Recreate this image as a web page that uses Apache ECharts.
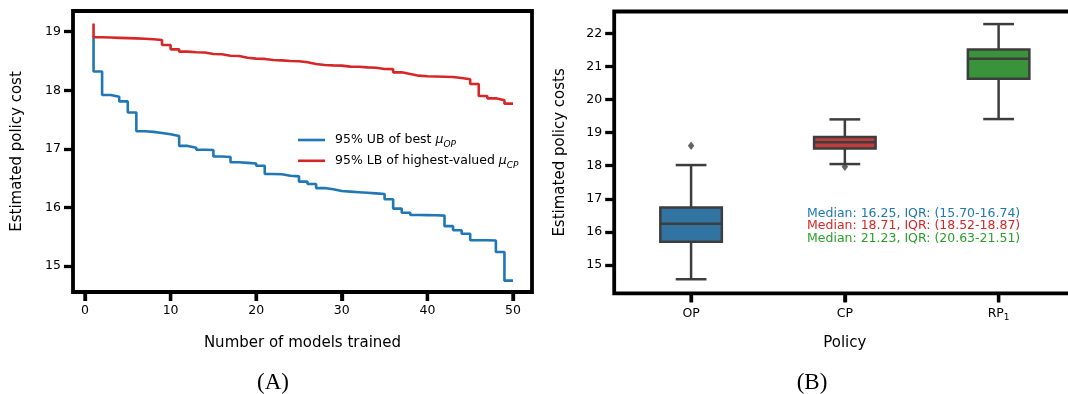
<!DOCTYPE html>
<html>
<head>
<meta charset="utf-8">
<script src="https://cdn.jsdelivr.net/npm/echarts@6/dist/echarts.min.js"></script>
<style>
  html, body { margin: 0; padding: 0; background: #fff; }
  #chart { width: 1068px; height: 394px; }
</style>
</head>
<body>
<div id="chart"></div>
<script>
// Panel A: bounds on policy cost as more models are trained
const modelsTrained = [1, 2, 3, 4, 5, 6, 7, 8, 9, 10, 11, 12, 13, 14, 15, 16, 17, 18, 19, 20,
  21, 22, 23, 24, 25, 26, 27, 28, 29, 30, 31, 32, 33, 34, 35, 36, 37, 38, 39, 40,
  41, 42, 43, 44, 45, 46, 47, 48, 49, 50];
const ubBestOP = [18.92, 18.32, 17.92, 17.89, 17.81, 17.62, 17.30, 17.29, 17.27, 17.25,
  17.22, 17.05, 17.02, 16.985, 16.98, 16.87, 16.86, 16.77, 16.76, 16.75,
  16.71, 16.57, 16.565, 16.54, 16.53, 16.44, 16.40, 16.33, 16.31, 16.28,
  16.27, 16.26, 16.25, 16.24, 16.23, 16.14, 15.98, 15.91, 15.87, 15.868,
  15.865, 15.86, 15.68, 15.61, 15.55, 15.44, 15.44, 15.435, 15.24, 14.75];
const lbHighestCP = [19.14, 18.905, 18.90, 18.895, 18.89, 18.885, 18.88, 18.87, 18.858, 18.772,
  18.698, 18.659, 18.65, 18.645, 18.62, 18.615, 18.59, 18.585, 18.556, 18.54,
  18.535, 18.517, 18.51, 18.50, 18.495, 18.477, 18.448, 18.431, 18.425, 18.42,
  18.403, 18.40, 18.391, 18.385, 18.363, 18.36, 18.306, 18.278, 18.249, 18.238,
  18.234, 18.23, 18.226, 18.209, 18.187, 18.107, 17.902, 17.862, 17.828, 17.771];
const xTicksA = [0, 10, 20, 30, 40, 50];
const yTicksA = [15, 16, 17, 18, 19];

// Panel B: distribution of estimated costs per policy
const policies = ['OP', 'CP', 'RP1'];
// [lower whisker, Q1, median, Q3, upper whisker]
const boxStats = [
  [14.57, 15.70, 16.25, 16.74, 18.02],
  [18.05, 18.52, 18.71, 18.87, 19.40],
  [19.41, 20.63, 21.23, 21.51, 22.28]
];
const outliers = [[0, 18.60], [1, 17.97]];
const yTicksB = [15, 16, 17, 18, 19, 20, 21, 22];

const FONT = '"DejaVu Sans", Verdana, sans-serif';
const SERIF = '"Liberation Serif", "DejaVu Serif", serif';
const LINE_BLUE = '#1f77b4', LINE_RED = '#d62728', LINE_GREEN = '#2ca02c';
const BOX_FILL = ['#3274a1', '#c03d3e', '#3a923a'];
const NOTE_COLORS = [LINE_BLUE, LINE_RED, LINE_GREEN];
const BOX_EDGE = '#3d3d3d';
const TICK_LEN = 9, TICK_W = 3.3;
const Y_MIN_A = 14.556, Y_MAX_A = 19.353, Y_MIN_B = 14.145, Y_MAX_B = 22.66;

const legendLabels = {
  ub: '{t|95% UB of best }{m|μ}{s|OP}',
  lb: '{t|95% LB of highest-valued }{m|μ}{s|CP}'
};

const labelBase = { color: '#000', fontFamily: FONT, fontSize: 12.5 };
const makeTick = (extra) => Object.assign({ show: true, length: TICK_LEN, lineStyle: { color: '#000', width: TICK_W } }, extra);
const titleText = (id, text, x, y, rotation) => ({
  id: id, type: 'text', x: x, y: y, rotation: rotation || 0, silent: true,
  style: { text: text, fill: '#000', fontFamily: FONT, fontSize: 15, align: 'center', verticalAlign: 'middle' }
});

// Short outward tick below the bottom spine at each given x value
function bottomTickSeries(xAxisIndex, yAxisIndex, yMin, values) {
  return {
    type: 'custom', xAxisIndex: xAxisIndex, yAxisIndex: yAxisIndex, clip: false, z: 10,
    silent: true, encode: { x: 0, y: 1 },
    data: values.map((v) => [v, yMin]),
    renderItem: (params, api) => {
      const p = api.coord([api.value(0), api.value(1)]);
      return {
        type: 'line',
        shape: { x1: p[0], y1: p[1], x2: p[0], y2: p[1] + TICK_LEN },
        style: { stroke: '#000', lineWidth: TICK_W }
      };
    }
  };
}

const chart = echarts.init(document.getElementById('chart'), null, { renderer: 'canvas' });

chart.setOption({
  animation: false,
  backgroundColor: '#fff',
  grid: [
    { left: 73, top: 11, width: 459, height: 281, show: true, borderColor: '#000', borderWidth: 3.8,
      backgroundColor: '#fff', containLabel: false, outerBoundsMode: 'none' },
    { left: 614.2, top: 11.5, width: 461.3, height: 281.8, show: true, borderColor: '#000', borderWidth: 3.8,
      backgroundColor: '#fff', containLabel: false, outerBoundsMode: 'none' }
  ],
  legend: {
    orient: 'vertical', left: 298, top: 133.5, padding: 0, itemGap: 5.3,
    itemWidth: 27, itemHeight: 2.6, icon: 'rect', selectedMode: false,
    data: ['ub', 'lb'],
    formatter: (name) => legendLabels[name],
    textStyle: {
      color: '#000', fontFamily: FONT, fontSize: 12.5, padding: [0, 0, 0, 5],
      rich: {
        t: { fontFamily: FONT, fontSize: 12.5, lineHeight: 18, color: '#000' },
        m: { fontFamily: FONT, fontSize: 12.5, fontStyle: 'italic', lineHeight: 18, color: '#000' },
        s: { fontFamily: FONT, fontSize: 9, fontStyle: 'italic', lineHeight: 18, verticalAlign: 'bottom', color: '#000' }
      }
    }
  },
  xAxis: [
    {
      gridIndex: 0, type: 'value', min: -1.40, max: 52.22,
      axisLine: { show: false, onZero: false }, splitLine: { show: false },
      axisTick: makeTick({ customValues: xTicksA }),
      axisLabel: Object.assign({ customValues: xTicksA, margin: 12 }, labelBase)
    },
    {
      gridIndex: 1, type: 'category', data: policies, boundaryGap: true,
      axisLine: { show: false, onZero: false }, splitLine: { show: false },
      axisTick: makeTick({ alignWithLabel: true }),
      axisLabel: Object.assign({
        margin: 12,
        formatter: (v) => {
          const m = v.match(/^(\D+)(\d+)$/);
          return m ? '{n|' + m[1] + '}{s|' + m[2] + '}' : '{n|' + v + '}';
        },
        rich: {
          n: { fontFamily: FONT, fontSize: 12.5, lineHeight: 17, color: '#000' },
          s: { fontFamily: FONT, fontSize: 9, lineHeight: 17, verticalAlign: 'bottom', color: '#000' }
        }
      }, labelBase)
    }
  ],
  yAxis: [
    {
      gridIndex: 0, type: 'value', min: Y_MIN_A, max: Y_MAX_A,
      axisLine: { show: false, onZero: false }, splitLine: { show: false },
      axisTick: makeTick({ customValues: yTicksA }),
      axisLabel: Object.assign({ customValues: yTicksA, margin: 12 }, labelBase)
    },
    {
      gridIndex: 1, type: 'value', min: Y_MIN_B, max: Y_MAX_B,
      axisLine: { show: false, onZero: false }, splitLine: { show: false },
      axisTick: makeTick({ customValues: yTicksB }),
      axisLabel: Object.assign({ customValues: yTicksB, margin: 12 }, labelBase)
    }
  ],
  series: [
    {
      name: 'ub', type: 'line', xAxisIndex: 0, yAxisIndex: 0, step: 'start',
      symbol: 'none', showSymbol: false, color: LINE_BLUE,
      lineStyle: { color: LINE_BLUE, width: 2.6 },
      data: modelsTrained.map((x, i) => [x, ubBestOP[i]])
    },
    {
      name: 'lb', type: 'line', xAxisIndex: 0, yAxisIndex: 0, step: 'start',
      symbol: 'none', showSymbol: false, color: LINE_RED,
      lineStyle: { color: LINE_RED, width: 2.6 },
      data: modelsTrained.map((x, i) => [x, lbHighestCP[i]])
    },
    {
      name: 'boxes', type: 'custom', xAxisIndex: 1, yAxisIndex: 1,
      encode: { x: 0, y: [1, 2, 3, 4, 5] },
      data: boxStats.map((s, i) => [i].concat(s)),
      renderItem: (params, api) => {
        const i = api.value(0);
        const lo = api.coord([i, api.value(1)]);
        const q1 = api.coord([i, api.value(2)]);
        const md = api.coord([i, api.value(3)]);
        const q3 = api.coord([i, api.value(4)]);
        const hi = api.coord([i, api.value(5)]);
        const band = api.size([1, 0])[0];
        const cx = md[0];
        const hb = band * 0.2, hc = band * 0.1;
        const stroke = { stroke: BOX_EDGE, lineWidth: 2.5 };
        return {
          type: 'group',
          children: [
            { type: 'line', shape: { x1: cx, y1: q1[1], x2: cx, y2: lo[1] }, style: stroke },
            { type: 'line', shape: { x1: cx, y1: q3[1], x2: cx, y2: hi[1] }, style: stroke },
            { type: 'line', shape: { x1: cx - hc, y1: lo[1], x2: cx + hc, y2: lo[1] }, style: stroke },
            { type: 'line', shape: { x1: cx - hc, y1: hi[1], x2: cx + hc, y2: hi[1] }, style: stroke },
            { type: 'rect', shape: { x: cx - hb, y: q3[1], width: hb * 2, height: q1[1] - q3[1] },
              style: Object.assign({ fill: BOX_FILL[params.dataIndex] }, stroke) },
            { type: 'line', shape: { x1: cx - hb, y1: md[1], x2: cx + hb, y2: md[1] }, style: stroke }
          ]
        };
      }
    },
    {
      name: 'outliers', type: 'scatter', xAxisIndex: 1, yAxisIndex: 1,
      symbol: 'diamond', symbolSize: [6.5, 8.5], itemStyle: { color: BOX_EDGE },
      data: outliers
    },
    bottomTickSeries(0, 0, Y_MIN_A, xTicksA),
    bottomTickSeries(1, 1, Y_MIN_B, policies.map((p, i) => i))
  ],
  graphic: boxStats.map((s, i) => ({
    id: 'note' + i, type: 'text', x: 807, y: 213.3 + i * 12.8, silent: true,
    style: {
      text: 'Median: ' + s[2].toFixed(2) + ', IQR: (' + s[1].toFixed(2) + '-' + s[3].toFixed(2) + ')',
      fill: NOTE_COLORS[i], fontFamily: FONT, fontSize: 12.5,
      align: 'left', verticalAlign: 'middle'
    }
  })).concat([
    titleText('xnameA', 'Number of models trained', 302.5, 343),
    titleText('xnameB', 'Policy', 844.8, 343),
    titleText('ynameA', 'Estimated policy cost', 17, 151.5, Math.PI / 2),
    titleText('ynameB', 'Estimated policy costs', 560, 152.4, Math.PI / 2),
    { id: 'capA', type: 'text', x: 273, y: 383, silent: true,
      style: { text: '(A)', fill: '#000', fontFamily: SERIF, fontSize: 23, align: 'center', verticalAlign: 'middle' } },
    { id: 'capB', type: 'text', x: 812, y: 383, silent: true,
      style: { text: '(B)', fill: '#000', fontFamily: SERIF, fontSize: 23, align: 'center', verticalAlign: 'middle' } }
  ])
});
</script>
</body>
</html>
